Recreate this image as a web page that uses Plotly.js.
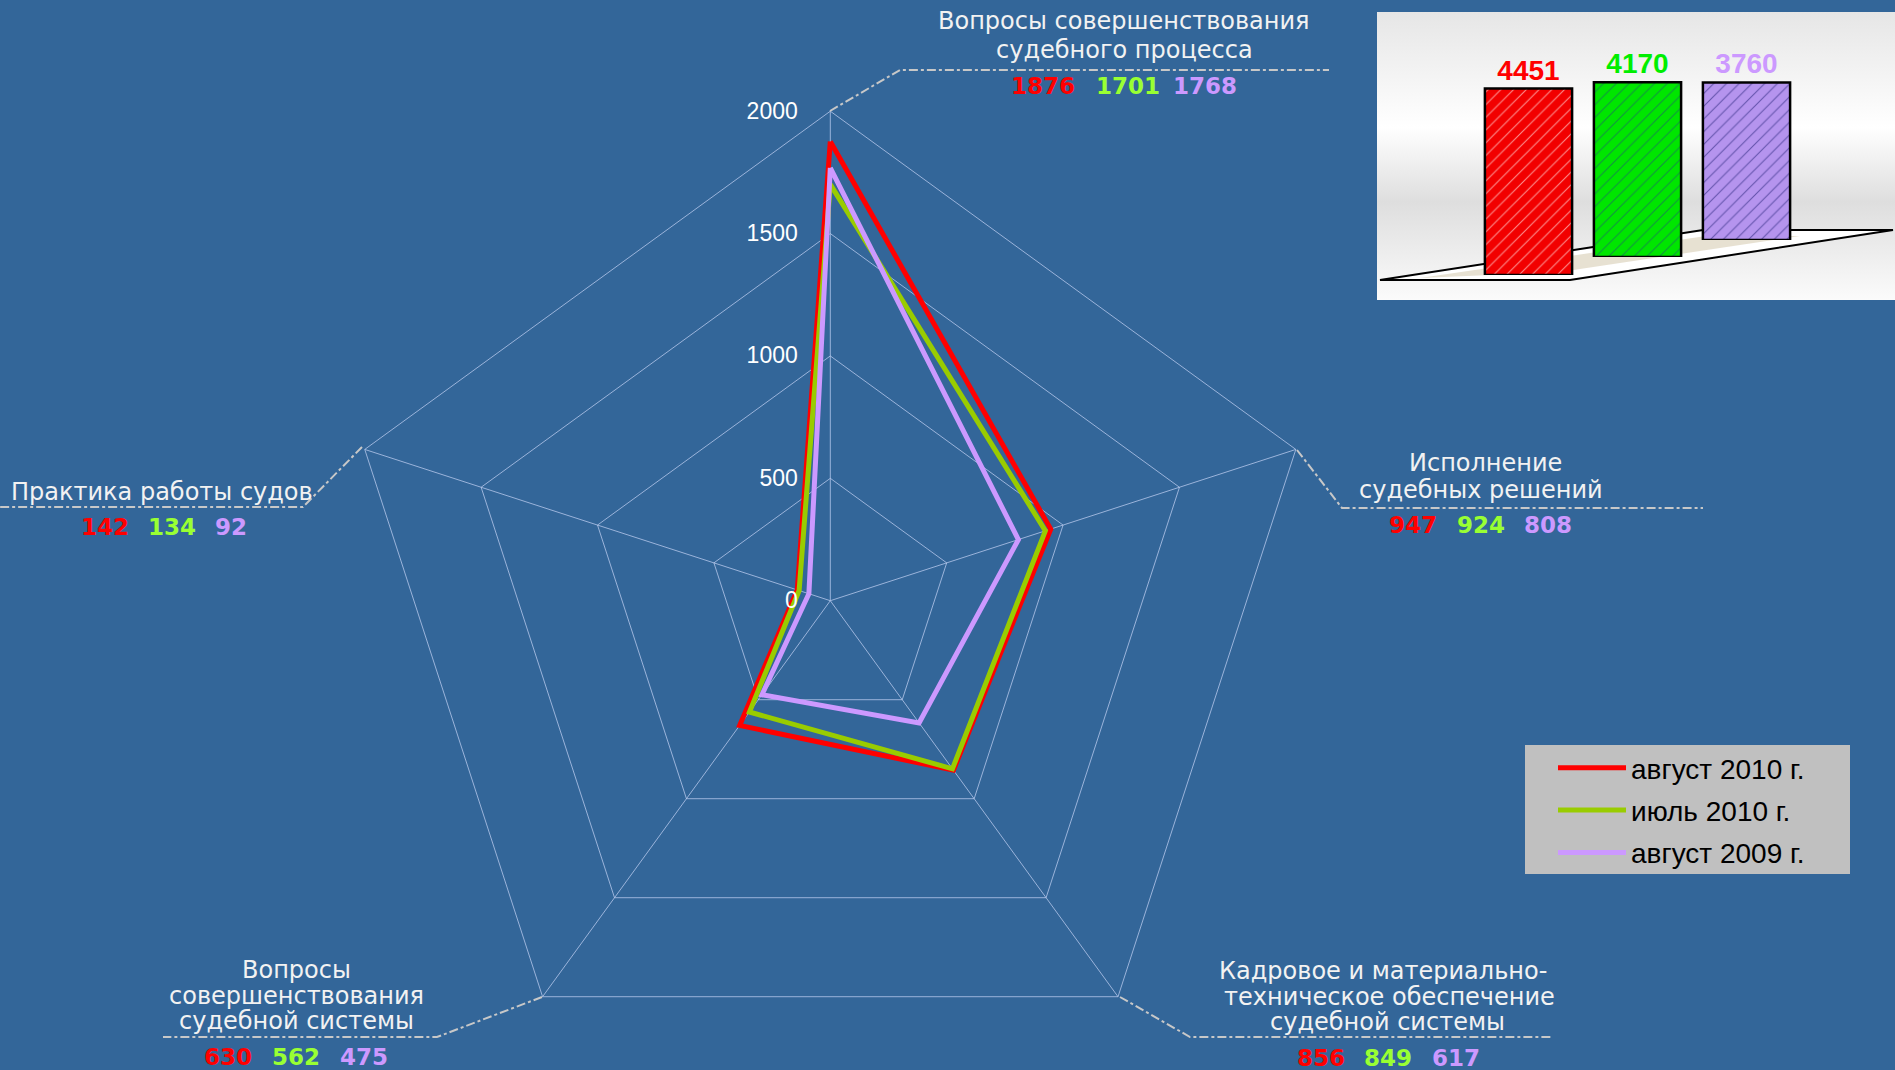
<!DOCTYPE html>
<html>
<head>
<meta charset="utf-8">
<script src="https://cdn.plot.ly/plotly-3.0.1.min.js"></script>
<style>
html,body{margin:0;padding:0;overflow:hidden;background:#336699;width:1895px;height:1070px}
#chart{width:1895px;height:1200px}
</style>
</head>
<body>
<div id="chart"></div>
<script>
// ---------- DATA ----------
const categories = [
  'Вопросы совершенствования судебного процесса',
  'Исполнение судебных решений',
  'Кадровое и материально-техническое обеспечение судебной системы',
  'Вопросы совершенствования судебной системы',
  'Практика работы судов'
];
const categoryLines = [
  ['Вопросы совершенствования', 'судебного процесса'],
  ['Исполнение', 'судебных решений'],
  ['Кадровое и материально-', 'техническое обеспечение', 'судебной системы'],
  ['Вопросы', 'совершенствования', 'судебной системы'],
  ['Практика работы судов']
];
const seriesNames = ['август 2010 г.', 'июль 2010 г.', 'август 2009 г.'];
const aug2010 = [1876, 947, 856, 630, 142];
const jul2010 = [1701, 924, 849, 562, 134];
const aug2009 = [1768, 808, 617, 475, 92];
const totals = [4451, 4170, 3760];
const radialTickValues = [0, 500, 1000, 1500, 2000];

// ---------- STYLE / LAYOUT ----------
const W = 1895, H = 1200;
const px = x => x / W;
const py = y => 1 - y / H;
const series = [aug2010, jul2010, aug2009];
const lineColors = ['#ff0000', '#99cc00', '#cc99ff'];
const valueColors = ['#ff0000', '#99ff33', '#cc99ff'];
const barColors = ['#f20000', '#00e600', '#b594ee'];
const barPattern = ['rgba(255,200,200,0.9)', 'rgba(30,90,110,0.75)', 'rgba(60,50,140,0.85)'];
const barTextColors = ['#ff0000', '#00ee00', '#cc99ff'];
const barYAxes = ['y2', 'y3', 'y4'];
const gridColor = 'rgba(190,205,240,0.75)';

// label placement (pixels)
const labelPlacement = [
  {lines: [[1124, 21], [1124, 50]], vals: [[1043, 86], [1128, 86], [1205, 86]], leader: [[830, 111], [900, 70], [1329, 70]]},
  {lines: [[1485, 463], [1481, 490]], vals: [[1413, 525], [1481, 525], [1548, 525]], leader: [[1297, 450], [1342, 508], [1703, 508]]},
  {lines: [[1383, 971], [1389, 997], [1387, 1022]], vals: [[1321, 1058], [1388, 1058], [1456, 1058]], leader: [[1120, 997], [1190, 1037], [1552, 1037]]},
  {lines: [[296, 970], [296, 996], [296, 1021]], vals: [[228, 1057], [296, 1057], [364, 1057]], leader: [[542, 997], [437, 1037], [163, 1037]]},
  {lines: [[162, 492]], vals: [[105, 527], [172, 527], [231, 527]], leader: [[362, 447], [303, 507], [0, 507]]}
];

const traces = [];
series.forEach((vals, i) => {
  traces.push({
    type: 'scatterpolar',
    r: vals.concat([vals[0]]),
    theta: categories.concat([categories[0]]),
    mode: 'lines',
    name: seriesNames[i],
    legendgroup: 'g' + i,
    line: {color: lineColors[i], width: 5},
    hoverinfo: 'skip'
  });
});
totals.forEach((v, i) => {
  traces.push({
    type: 'bar',
    x: [seriesNames[i]],
    y: [v],
    text: [String(v)],
    texttemplate: '<b>%{text}</b>',
    textposition: 'outside',
    cliponaxis: false,
    textfont: {family: 'Liberation Sans, Arial, sans-serif', size: 28, color: barTextColors[i]},
    xaxis: 'x2',
    yaxis: barYAxes[i],
    showlegend: false,
    hoverinfo: 'skip',
    marker: {
      color: barColors[i],
      line: {color: '#000000', width: 2.5},
      pattern: {shape: '/', fillmode: 'overlay', fgcolor: barPattern[i], fgopacity: 0.8, size: 9, solidity: 0.12}
    }
  });
});

const annotations = [];
const shapes = [];
labelPlacement.forEach((p, c) => {
  categoryLines[c].forEach((txt, k) => {
    annotations.push({
      xref: 'paper', yref: 'paper', x: px(p.lines[k][0]), y: py(p.lines[k][1]),
      xanchor: 'center', yanchor: 'middle', showarrow: false, text: txt,
      font: {family: 'DejaVu Sans, Verdana, sans-serif', size: 24, color: '#f2f2f2'}
    });
  });
  series.forEach((vals, s) => {
    annotations.push({
      xref: 'paper', yref: 'paper', x: px(p.vals[s][0]), y: py(p.vals[s][1]),
      xanchor: 'center', yanchor: 'middle', showarrow: false, text: '<b>' + vals[c] + '</b>',
      font: {family: 'DejaVu Sans, Verdana, sans-serif', size: 23, color: valueColors[s]}
    });
  });
  const L = p.leader;
  shapes.push({
    type: 'path', xref: 'paper', yref: 'paper', layer: 'above',
    path: 'M' + px(L[0][0]) + ',' + py(L[0][1]) + ' L' + px(L[1][0]) + ',' + py(L[1][1]) + ' L' + px(L[2][0]) + ',' + py(L[2][1]),
    line: {color: '#c8c8c8', width: 2, dash: 'dashdot'}
  });
});

// inset floor
shapes.push({
  type: 'path', xref: 'paper', yref: 'paper', layer: 'below',
  path: 'M' + px(1380) + ',' + py(280) + ' L' + px(1570) + ',' + py(280) + ' L' + px(1893) + ',' + py(230) + ' L' + px(1703) + ',' + py(230) + ' Z',
  fillcolor: '#ffffff', line: {color: '#000000', width: 2}
});
shapes.push({
  type: 'path', xref: 'paper', yref: 'paper', layer: 'below',
  path: 'M' + px(1420) + ',' + py(278) + ' L' + px(1560) + ',' + py(272) + ' L' + px(1800) + ',' + py(236) + ' L' + px(1706) + ',' + py(236) + ' Z',
  fillcolor: 'rgba(215,205,180,0.6)', line: {width: 0}
});
// legend box
shapes.push({
  type: 'rect', xref: 'paper', yref: 'paper', layer: 'below',
  x0: px(1525), x1: px(1850), y0: py(874), y1: py(745),
  fillcolor: '#c0c0c0', line: {width: 0}
});

const bgSvg = '<svg xmlns="http://www.w3.org/2000/svg" width="100" height="100" preserveAspectRatio="none">' +
  '<defs><linearGradient id="g" x1="0" y1="0" x2="0" y2="1">' +
  '<stop offset="0" stop-color="#e6e6e6"/><stop offset="0.4" stop-color="#ffffff"/>' +
  '<stop offset="0.66" stop-color="#dedede"/><stop offset="1" stop-color="#fbfbfb"/>' +
  '</linearGradient></defs><rect width="100" height="100" fill="url(#g)"/></svg>';

const barDomH = 209.5 / H;
const barBottoms = [275, 257, 240];

const layout = {
  width: W, height: H, autosize: false,
  margin: {l: 0, r: 0, t: 0, b: 0, pad: 0},
  paper_bgcolor: '#336699',
  plot_bgcolor: 'rgba(0,0,0,0)',
  showlegend: true,
  bargap: 0.2,
  polar: {
    domain: {x: [px(340.8), px(1319.8)], y: [py(1090.2), py(111.2)]},
    bgcolor: 'rgba(0,0,0,0)',
    gridshape: 'linear',
    angularaxis: {
      direction: 'clockwise', rotation: 90, type: 'category',
      categoryarray: categories,
      showticklabels: false, ticks: '',
      showline: true, linecolor: gridColor, linewidth: 1,
      gridcolor: gridColor, gridwidth: 1
    },
    radialaxis: {
      range: [0, 2000], tickvals: radialTickValues,
      angle: 90, side: 'counterclockwise', tickangle: 90,
      ticks: 'outside', ticklen: 24, tickcolor: 'rgba(0,0,0,0)',
      showline: false, gridcolor: gridColor, gridwidth: 1,
      tickfont: {family: 'Liberation Sans, Arial, sans-serif', size: 23, color: '#ffffff'}
    }
  },
  xaxis2: {
    domain: [px(1474), px(1801)], anchor: 'y2', type: 'category',
    categoryarray: seriesNames, categoryorder: 'array', range: [-0.5, 2.5],
    visible: false, fixedrange: true
  },
  yaxis2: {domain: [py(barBottoms[0]), py(barBottoms[0]) + barDomH], anchor: 'x2', range: [0, 5000], visible: false, fixedrange: true},
  yaxis3: {domain: [py(barBottoms[1]), py(barBottoms[1]) + barDomH], anchor: 'x2', range: [0, 5000], visible: false, fixedrange: true},
  yaxis4: {domain: [py(barBottoms[2]), py(barBottoms[2]) + barDomH], anchor: 'x2', range: [0, 5000], visible: false, fixedrange: true},
  legend: {
    x: px(1553), y: py(743), xanchor: 'left', yanchor: 'top',
    bgcolor: 'rgba(0,0,0,0)', borderwidth: 0,
    font: {family: 'Liberation Sans, Arial, sans-serif', size: 28, color: '#000000'},
    itemwidth: 68, traceorder: 'grouped', tracegroupgap: 3
  },
  images: [{
    source: 'data:image/svg+xml;charset=utf-8,' + encodeURIComponent(bgSvg),
    xref: 'paper', yref: 'paper', x: px(1377), y: py(12),
    sizex: (W - 1377) / W, sizey: 288 / H, xanchor: 'left', yanchor: 'top',
    sizing: 'stretch', layer: 'below'
  }],
  shapes: shapes,
  annotations: annotations
};

Plotly.newPlot('chart', traces, layout, {displayModeBar: false, staticPlot: true});
</script>
</body>
</html>
